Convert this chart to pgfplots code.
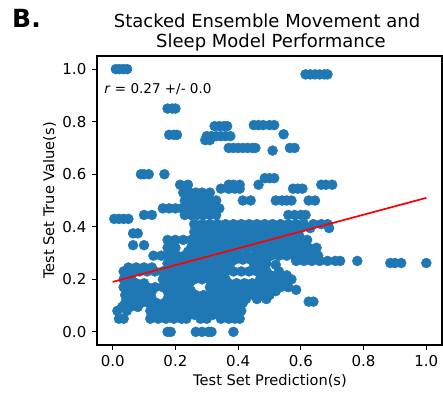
\documentclass[border=0pt]{standalone}
\usepackage{pgfplots}
\pgfplotsset{compat=1.18}
\usepackage{fontspec}
\setmainfont{DejaVu Sans}
\definecolor{mplblue}{HTML}{1F77B4}
\begin{document}
\begin{tikzpicture}
\path[use as bounding box] (0,0) rectangle (443pt,394pt);
\begin{axis}[
  at={(97pt,49pt)}, anchor=south west,
  width=345pt, height=289pt, scale only axis,
  clip marker paths=true,
  xmin=-0.05, xmax=1.05, ymin=-0.05, ymax=1.05,
  xtick={0,0.2,0.4,0.6,0.8,1.0}, ytick={0,0.2,0.4,0.6,0.8,1.0},
  /pgf/number format/.cd, fixed, fixed zerofill, precision=1, assume math mode=true,
  /pgfplots/.cd,
  tick align=outside, major tick length=5.25pt,
  tick style={black, line width=1.2pt},
  axis line style={black, line width=1.2pt},
  xtick pos=bottom, ytick pos=left,
  ticklabel style={font=\fontsize{15}{18}\selectfont, inner sep=0pt},
  xticklabel style={anchor=north, yshift=-5.25pt},
  yticklabel style={anchor=east, xshift=-5.25pt},
]
\addplot[only marks, mark=*, mark size=5pt, mark options={fill=mplblue, draw=mplblue, line width=0.4pt}] coordinates {
(0.01,1.00) (0.022,1.00) (0.034,1.00) (0.046,1.00)
(0.615,0.98) (0.63,0.98) (0.645,0.98) (0.66,0.98) (0.675,0.98) (0.685,0.98)
(0.175,0.85) (0.19,0.85) (0.20,0.85)
(0.45,0.787) (0.465,0.787) (0.48,0.787) (0.50,0.787) (0.515,0.787)
(0.325,0.783) (0.34,0.783) (0.355,0.783) (0.365,0.783)
(0.18,0.75) (0.195,0.75) (0.205,0.75)
(0.30,0.745) (0.315,0.745) (0.33,0.745) (0.345,0.745) (0.36,0.745) (0.375,0.745) (0.545,0.752)
(0.295,0.73) (0.31,0.73)
(0.37,0.70) (0.385,0.70) (0.40,0.70) (0.415,0.70) (0.43,0.70) (0.445,0.70) (0.455,0.70)
(0.565,0.70) (0.58,0.70) (0.51,0.69)
(0.09,0.60) (0.10,0.60) (0.115,0.60) (0.165,0.60)
(0.485,0.585) (0.50,0.585) (0.515,0.585)
(0.215,0.56) (0.24,0.56) (0.37,0.56) (0.385,0.56) (0.405,0.56) (0.465,0.56) (0.665,0.56) (0.68,0.56) (0.70,0.56)
(0.575,0.545) (0.59,0.545) (0.605,0.545) (0.345,0.545) (0.37,0.545) (0.39,0.545) (0.405,0.545)
(0.225,0.53) (0.245,0.53) (0.265,0.53) (0.285,0.53) (0.31,0.53)
(0.23,0.50) (0.25,0.50) (0.27,0.50) (0.29,0.50) (0.31,0.50) (0.33,0.50) (0.415,0.50) (0.44,0.50)
(0.52,0.50) (0.54,0.50) (0.555,0.50) (0.57,0.50) (0.625,0.50) (0.645,0.50)
(0.16,0.47) (0.18,0.47) (0.20,0.47) (0.22,0.47) (0.24,0.47) (0.26,0.47) (0.28,0.47) (0.30,0.47) (0.32,0.47) (0.34,0.47)
(0.10,0.445) (0.125,0.445) (0.23,0.445) (0.25,0.445) (0.27,0.445) (0.29,0.445) (0.31,0.445) (0.33,0.445)
(0.56,0.445) (0.58,0.445) (0.60,0.445) (0.615,0.445)
(0.005,0.43) (0.02,0.43) (0.035,0.43) (0.05,0.43)
(0.26,0.41) (0.285,0.41) (0.31,0.41) (0.335,0.41) (0.36,0.41) (0.385,0.41) (0.41,0.41) (0.435,0.41) (0.46,0.41)
(0.485,0.41) (0.51,0.41) (0.535,0.41) (0.56,0.41) (0.585,0.41) (0.61,0.41) (0.64,0.41) (0.665,0.41) (0.685,0.41)
(0.69,0.395)
(0.27,0.395) (0.295,0.395) (0.32,0.395) (0.345,0.395) (0.37,0.395) (0.395,0.395) (0.42,0.395) (0.445,0.395)
(0.47,0.395) (0.495,0.395) (0.52,0.395) (0.545,0.395) (0.57,0.395) (0.60,0.395) (0.63,0.395)
(0.26,0.38) (0.285,0.38) (0.31,0.38) (0.335,0.38) (0.36,0.38) (0.385,0.38) (0.41,0.38) (0.435,0.38) (0.46,0.38)
(0.485,0.38) (0.51,0.38) (0.535,0.38) (0.56,0.38) (0.585,0.38) (0.065,0.375) (0.08,0.375)
(0.27,0.365) (0.295,0.365) (0.32,0.365) (0.345,0.365) (0.37,0.365) (0.395,0.365) (0.42,0.365) (0.445,0.365)
(0.47,0.365) (0.495,0.365) (0.52,0.365) (0.545,0.365) (0.57,0.365) (0.595,0.365)
(0.175,0.35) (0.20,0.35) (0.225,0.35) (0.25,0.35) (0.275,0.35) (0.30,0.35) (0.325,0.35) (0.35,0.35) (0.375,0.35) (0.40,0.35)
(0.425,0.35) (0.45,0.35) (0.475,0.35) (0.50,0.35) (0.525,0.35) (0.55,0.35) (0.575,0.35) (0.60,0.35) (0.62,0.35)
(0.19,0.335) (0.265,0.335) (0.29,0.335) (0.315,0.335) (0.34,0.335) (0.365,0.335) (0.39,0.335)
(0.415,0.335) (0.44,0.335) (0.465,0.335) (0.49,0.335) (0.515,0.335) (0.54,0.335) (0.565,0.335) (0.59,0.335) (0.61,0.335)
(0.065,0.33) (0.10,0.33)
(0.175,0.32) (0.20,0.32) (0.25,0.32) (0.275,0.32) (0.30,0.32) (0.325,0.32) (0.35,0.32) (0.375,0.32) (0.40,0.32)
(0.425,0.32) (0.45,0.32) (0.475,0.32) (0.50,0.32) (0.525,0.32) (0.55,0.32) (0.575,0.32) (0.60,0.32) (0.625,0.32) (0.65,0.32)
(0.19,0.305) (0.24,0.305) (0.265,0.305) (0.29,0.305) (0.315,0.305) (0.34,0.305) (0.365,0.305) (0.39,0.305)
(0.465,0.305) (0.49,0.305) (0.515,0.305) (0.54,0.305) (0.565,0.305) (0.59,0.305) (0.615,0.305) (0.64,0.305)
(0.13,0.29) (0.155,0.29) (0.18,0.29) (0.205,0.29) (0.23,0.29) (0.255,0.29) (0.28,0.29) (0.305,0.29) (0.33,0.29) (0.355,0.29) (0.38,0.29)
(0.405,0.29) (0.43,0.29) (0.455,0.29) (0.48,0.29) (0.505,0.29) (0.53,0.29) (0.555,0.29) (0.58,0.29) (0.605,0.29) (0.63,0.29) (0.655,0.29)
(0.19,0.275) (0.215,0.275) (0.24,0.275) (0.265,0.275) (0.29,0.275) (0.315,0.275) (0.34,0.275) (0.365,0.275) (0.39,0.275)
(0.415,0.275) (0.44,0.275) (0.465,0.275) (0.49,0.275)
(0.585,0.27) (0.61,0.27) (0.635,0.27) (0.66,0.27) (0.685,0.27) (0.71,0.27) (0.725,0.27) (0.78,0.27)
(0.885,0.262) (0.90,0.262) (0.92,0.262) (1.0,0.262)
(0.175,0.26) (0.20,0.26) (0.225,0.26) (0.25,0.26) (0.275,0.26) (0.30,0.26) (0.325,0.26) (0.35,0.26) (0.375,0.26)
(0.45,0.26) (0.475,0.26) (0.49,0.26) (0.52,0.255)
(0.05,0.245) (0.075,0.245) (0.10,0.245) (0.125,0.245) (0.19,0.245) (0.215,0.245) (0.24,0.245) (0.265,0.245) (0.29,0.245)
(0.315,0.245) (0.34,0.245) (0.365,0.245) (0.465,0.245)
(0.035,0.23) (0.06,0.23) (0.085,0.23) (0.11,0.23) (0.135,0.23) (0.16,0.23) (0.185,0.23) (0.21,0.23) (0.235,0.23) (0.26,0.23)
(0.285,0.23) (0.31,0.23) (0.335,0.23) (0.36,0.23) (0.385,0.23) (0.41,0.23) (0.435,0.23) (0.46,0.23) (0.49,0.23) (0.53,0.23)
(0.05,0.215) (0.17,0.215) (0.195,0.215) (0.22,0.215) (0.245,0.215) (0.27,0.215) (0.295,0.215) (0.32,0.215) (0.345,0.215)
(0.48,0.215) (0.505,0.215) (0.53,0.215) (0.555,0.215)
(0.035,0.20) (0.06,0.20) (0.16,0.20) (0.185,0.20) (0.21,0.20) (0.235,0.20) (0.26,0.20) (0.285,0.20) (0.31,0.20) (0.335,0.20) (0.36,0.20)
(0.47,0.20) (0.495,0.20) (0.52,0.20) (0.545,0.20) (0.57,0.20)
(0.05,0.185) (0.075,0.185) (0.10,0.185) (0.17,0.185) (0.195,0.185) (0.22,0.185) (0.245,0.185) (0.32,0.185) (0.345,0.185)
(0.37,0.185) (0.395,0.185) (0.42,0.185) (0.445,0.185) (0.47,0.185) (0.495,0.185) (0.52,0.185) (0.545,0.185)
(0.035,0.17) (0.06,0.17) (0.085,0.17) (0.11,0.17) (0.135,0.17) (0.16,0.17) (0.185,0.17) (0.21,0.17) (0.235,0.17) (0.31,0.17)
(0.335,0.17) (0.36,0.17) (0.385,0.17) (0.41,0.17) (0.435,0.17) (0.46,0.17) (0.485,0.17) (0.51,0.17) (0.535,0.17) (0.56,0.17)
(0.585,0.16)
(0.05,0.155) (0.075,0.155) (0.10,0.155) (0.125,0.155) (0.175,0.155) (0.20,0.155) (0.225,0.155) (0.25,0.155)
(0.32,0.155) (0.345,0.155) (0.37,0.155) (0.395,0.155) (0.42,0.155) (0.445,0.155) (0.47,0.155) (0.495,0.155) (0.52,0.155)
(0.04,0.14) (0.065,0.14) (0.09,0.14) (0.115,0.14) (0.19,0.14) (0.215,0.14) (0.24,0.14) (0.265,0.14)
(0.29,0.14) (0.315,0.14) (0.34,0.14) (0.365,0.14) (0.39,0.14) (0.415,0.14) (0.45,0.14) (0.475,0.14) (0.50,0.14)
(0.05,0.125) (0.075,0.125) (0.10,0.125) (0.125,0.125) (0.175,0.125) (0.20,0.125) (0.225,0.125) (0.25,0.125)
(0.275,0.125) (0.30,0.125) (0.325,0.125) (0.35,0.125) (0.375,0.125) (0.40,0.125) (0.425,0.125) (0.46,0.125) (0.49,0.125)
(0.625,0.115) (0.64,0.115)
(0.04,0.11) (0.065,0.11) (0.09,0.11) (0.115,0.11) (0.14,0.11) (0.165,0.11) (0.19,0.11) (0.215,0.11) (0.24,0.11) (0.265,0.11)
(0.29,0.11) (0.315,0.11) (0.34,0.11) (0.365,0.11) (0.39,0.11) (0.415,0.11)
(0.03,0.095) (0.055,0.095) (0.08,0.095) (0.13,0.095) (0.155,0.095) (0.18,0.095) (0.205,0.095) (0.23,0.095) (0.255,0.095)
(0.28,0.095) (0.305,0.095) (0.33,0.095) (0.355,0.095) (0.38,0.095) (0.405,0.095)
(0.015,0.08) (0.045,0.08) (0.12,0.08) (0.145,0.08) (0.17,0.08) (0.195,0.08) (0.22,0.08) (0.245,0.08) (0.27,0.08) (0.295,0.08)
(0.32,0.08) (0.345,0.08) (0.37,0.08) (0.395,0.08) (0.41,0.08)
(0.13,0.065) (0.155,0.065) (0.18,0.065) (0.205,0.065) (0.23,0.065) (0.26,0.065) (0.29,0.065) (0.32,0.065) (0.355,0.065) (0.38,0.065) (0.40,0.065)
(0.02,0.05) (0.035,0.05) (0.12,0.05) (0.145,0.05) (0.17,0.05) (0.195,0.05) (0.22,0.05) (0.235,0.05) (0.28,0.05) (0.30,0.05)
(0.345,0.05) (0.37,0.05) (0.39,0.05) (0.405,0.05)
(0.175,0.00) (0.185,0.00) (0.265,0.00) (0.285,0.00) (0.305,0.00) (0.315,0.00) (0.385,0.00)
};
\addplot[red, line width=1.7pt] coordinates {(0,0.19) (1,0.51)};
\node[anchor=base west, inner sep=0pt, font=\fontsize{13.5}{16}\selectfont] at (axis cs:-0.027,0.909) {\textit{r} = 0.27 +/- 0.0};
\end{axis}
\node[anchor=base west, inner sep=0pt, font=\bfseries\fontsize{25}{30}\selectfont] at (12pt,366pt) {B.};
\node[anchor=base, inner sep=0pt, font=\fontsize{18}{21}\selectfont] at (267pt,366pt) {Stacked Ensemble Movement and};
\node[anchor=base, inner sep=0pt, font=\fontsize{18}{21}\selectfont] at (271pt,346pt) {Sleep Model Performance};
\node[anchor=base, inner sep=0pt, font=\fontsize{14.6}{17}\selectfont] at (270pt,9pt) {Test Set Prediction(s)};
\node[anchor=base, rotate=90, inner sep=0pt, font=\fontsize{14.6}{17}\selectfont] at (54pt,193.5pt) {Test Set True Value(s)};
\end{tikzpicture}
\end{document}
